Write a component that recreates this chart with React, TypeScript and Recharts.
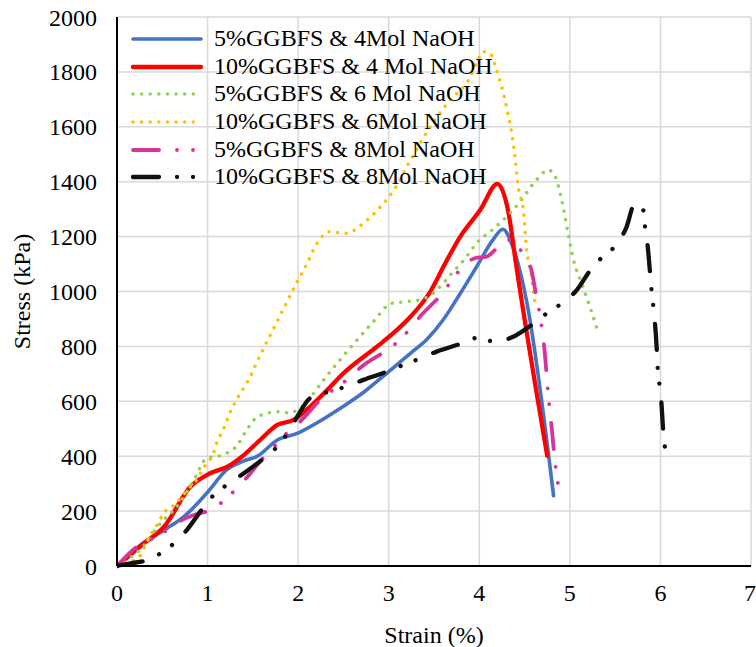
import { CartesianGrid, Legend, Line, LineChart, XAxis, YAxis } from 'recharts';

type Pt = [number, number];

const FONT = 'Liberation Serif, Tinos, Times New Roman, Times, Nimbus Roman, DejaVu Serif, serif';

const strainTicks = [0, 1, 2, 3, 4, 5, 6, 7];
const stressTicks = [0, 200, 400, 600, 800, 1000, 1200, 1400, 1600, 1800, 2000];

// [strain %, stress kPa]
const g5m4: Pt[] = [
  [0, 0], [0.29, 84], [0.55, 137], [0.74, 180], [0.99, 265], [1.21, 350], [1.4, 383],
  [1.55, 400], [1.77, 459], [1.99, 483], [2.21, 522], [2.5, 582], [2.72, 632], [3.02, 714],
  [3.24, 775], [3.42, 825], [3.6, 896], [3.79, 993], [3.97, 1090], [4.15, 1188], [4.26, 1227],
  [4.37, 1163], [4.52, 969], [4.82, 256],
];
const g10m4: Pt[] = [
  [0, 0], [0.3, 83], [0.52, 143], [0.81, 289], [1.03, 338], [1.22, 362], [1.4, 404],
  [1.58, 459], [1.77, 514], [1.95, 532], [2.13, 580], [2.32, 641], [2.5, 702], [2.87, 799],
  [3.05, 848], [3.24, 908], [3.46, 1000], [3.62, 1100], [3.79, 1200], [4.01, 1297], [4.2, 1392],
  [4.32, 1291], [4.41, 1090], [4.75, 401],
];
const g5m6: Pt[] = [
  [0, 0], [0.3, 76], [0.48, 155], [0.66, 216], [0.83, 301], [0.99, 392], [1.16, 404],
  [1.33, 441], [1.42, 489], [1.53, 538], [1.71, 560], [1.8, 562], [1.89, 558], [2.1, 599],
  [2.22, 651], [2.34, 702], [2.46, 750], [2.65, 823], [2.83, 890], [3.03, 957], [3.2, 963],
  [3.4, 975], [3.55, 1012], [3.68, 1060], [3.86, 1127], [3.97, 1176], [4.14, 1224],
  [4.32, 1279], [4.45, 1327], [4.63, 1406], [4.76, 1443], [4.83, 1424], [4.91, 1333],
  [4.98, 1212], [5.04, 1115], [5.13, 1030], [5.22, 945], [5.31, 854],
];
const g10m6: Pt[] = [
  [0, 0], [0.19, 22], [0.26, 40], [0.35, 101], [0.44, 149], [0.53, 198], [0.63, 222],
  [0.7, 247], [0.81, 289], [0.88, 313], [0.94, 350], [1.07, 416], [1.1, 447], [1.18, 502],
  [1.25, 560], [1.34, 617], [1.44, 671], [1.6, 781], [1.73, 866], [1.86, 951], [1.99, 1036],
  [2.08, 1090], [2.21, 1176], [2.34, 1218], [2.52, 1212], [2.76, 1260], [2.91, 1309],
  [3.07, 1376], [3.24, 1479], [3.46, 1600], [3.68, 1698], [3.88, 1770], [3.99, 1846],
  [4.04, 1874], [4.12, 1868], [4.19, 1807], [4.3, 1673], [4.39, 1503], [4.43, 1382],
  [4.49, 1285], [4.52, 1163], [4.58, 1042], [4.62, 945],
];
const g5m8: Pt[] = [
  [0, 0], [0.22, 70], [0.4, 101], [0.57, 134], [0.72, 168], [0.85, 186], [1.03, 204],
  [1.18, 238], [1.31, 279], [1.44, 325], [1.64, 404], [1.77, 447], [1.89, 489], [2.04, 532],
  [2.28, 617], [2.41, 647], [2.56, 684], [2.7, 726], [2.98, 787], [3.11, 820], [3.24, 866],
  [3.36, 914], [3.59, 993], [3.7, 1042], [3.81, 1088], [3.95, 1121], [4.08, 1127],
  [4.23, 1169], [4.33, 1188], [4.49, 1133], [4.58, 1072], [4.63, 981], [4.67, 914],
  [4.72, 787], [4.76, 629], [4.8, 502], [4.83, 398], [4.88, 277],
];
const g10m8: Pt[] = [
  [0, 0], [0.15, 10], [0.31, 19], [0.48, 46], [0.63, 83], [0.77, 131], [0.96, 216],
  [1.07, 259], [1.21, 295], [1.4, 338], [1.62, 392], [1.77, 435], [1.88, 483], [1.99, 544],
  [2.13, 611], [2.34, 635], [2.52, 653], [2.72, 678], [2.98, 708], [3.16, 732], [3.35, 757],
  [3.53, 781], [3.81, 811], [3.99, 832], [4.17, 817], [4.36, 833], [4.6, 884], [4.76, 924],
  [4.92, 959], [5.06, 999], [5.24, 1084], [5.37, 1129], [5.51, 1169], [5.62, 1230],
  [5.72, 1321], [5.81, 1297], [5.83, 1236], [5.86, 1163], [5.9, 1012], [5.92, 951],
  [5.96, 787], [5.97, 720], [5.99, 659], [6.01, 599], [6.03, 495], [6.05, 432],
];

const DOTS = '0.01 8.6';
const DASH_DOT_DOT = '26 18 0.01 16 0.01 19';

const SERIES = [
  { name: '5%GGBFS & 4Mol NaOH', pts: g5m4, color: '#4472C4', width: 3.6 },
  { name: '10%GGBFS & 4 Mol NaOH', pts: g10m4, color: '#FF0000', width: 4.3 },
  { name: '5%GGBFS & 6 Mol NaOH', pts: g5m6, color: '#92D050', width: 3.5, dash: DOTS },
  { name: '10%GGBFS & 6Mol NaOH', pts: g10m6, color: '#FFC000', width: 3.5, dash: DOTS },
  { name: '5%GGBFS & 8Mol NaOH', pts: g5m8, color: '#D6349B', width: 3.8, dash: DASH_DOT_DOT },
  { name: '10%GGBFS & 8Mol NaOH', pts: g10m8, color: '#111111', width: 4.3, dash: DASH_DOT_DOT },
];

function LegendBox() {
  return (
    <div style={{ fontFamily: FONT, fontSize: 24, color: '#000', lineHeight: '27.7px' }}>
      {SERIES.map((s) => (
        <div key={s.name} style={{ display: 'flex', alignItems: 'center', height: 27.7, whiteSpace: 'nowrap' }}>
          <svg width={74} height={10} style={{ marginRight: 9, flex: 'none' }}>
            <line
              x1={2} y1={5} x2={70} y2={5}
              stroke={s.color}
              strokeWidth={s.width}
              strokeDasharray={s.dash}
              strokeLinecap="round"
            />
          </svg>
          <span>{s.name}</span>
        </div>
      ))}
    </div>
  );
}

function YTitle(props: any) {
  const vb = props.viewBox || { x: 0, y: 0, width: 0, height: 0 };
  const cx = vb.x + 22;
  const cy = vb.y + vb.height / 2;
  return (
    <text
      x={cx} y={cy}
      transform={`rotate(-90 ${cx} ${cy})`}
      textAnchor="middle"
      dominantBaseline="central"
      style={{ fontFamily: FONT, fontSize: 24 }}
      fill="#000"
    >
      Stress (kPa)
    </text>
  );
}

function XTitle(props: any) {
  const vb = props.viewBox || { x: 0, y: 0, width: 0, height: 0 };
  return (
    <text
      x={vb.x + vb.width / 2} y={vb.y + 69}
      textAnchor="middle"
      dominantBaseline="central"
      style={{ fontFamily: FONT, fontSize: 24 }}
      fill="#000"
    >
      Strain (%)
    </text>
  );
}

export default function App() {
  const tick = { fill: '#000', fontSize: 24, fontFamily: FONT, style: { fontFamily: FONT } };
  return (
    <div style={{ width: 756, height: 647, background: '#fff', fontFamily: FONT }}>
      <style>{'body{margin:0;}'}</style>
      <LineChart
        width={756}
        height={647}
        margin={{ top: 17, right: 5, bottom: 0, left: 0 }}
        style={{ fontFamily: FONT }}
      >
        <CartesianGrid stroke="#d9d9d9" strokeWidth={1.5} />
        <XAxis
          type="number"
          dataKey="x"
          domain={[0, 7]}
          ticks={strainTicks}
          allowDataOverflow
          height={81}
          tick={tick}
          tickLine={false}
          tickSize={0}
          tickMargin={18}
          axisLine={{ stroke: '#000', strokeWidth: 2 }}
          label={XTitle}
        />
        <YAxis
          type="number"
          domain={[0, 2000]}
          ticks={stressTicks}
          width={117}
          tick={tick}
          tickLine={false}
          tickSize={0}
          tickMargin={20}
          axisLine={{ stroke: '#000', strokeWidth: 2 }}
          label={YTitle}
        />
        <Legend
          layout="vertical"
          align="center"
          verticalAlign="middle"
          content={() => <LegendBox />}
          wrapperStyle={{ top: 25, left: 131, width: 'auto', right: 'auto', bottom: 'auto' }}
        />
        {SERIES.map((s) => (
          <Line
            key={s.name}
            name={s.name}
            data={s.pts.map(([x, y]) => ({ x, y }))}
            dataKey="y"
            type="monotone"
            stroke={s.color}
            strokeWidth={s.width}
            strokeDasharray={s.dash}
            strokeLinecap="round"
            strokeLinejoin="round"
            dot={false}
            activeDot={false}
            isAnimationActive={false}
          />
        ))}
      </LineChart>
    </div>
  );
}
